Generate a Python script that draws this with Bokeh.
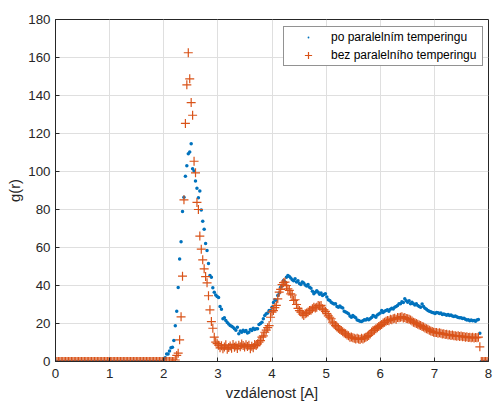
import numpy as np
from bokeh.plotting import figure
from bokeh.models import Range1d, FixedTicker, Legend, LegendItem
from bokeh.embed import file_html
from bokeh.resources import INLINE

# bin grid (bin centres 0..8 A)
r_start, r_end, n_bins = 0.0, 8.0, 301
r = np.linspace(r_start, r_end, n_bins)

x_ticks = [0, 1, 2, 3, 4, 5, 6, 7, 8]
y_ticks = [0, 20, 40, 60, 80, 100, 120, 140, 160, 180]

# g(r) "po paralelnim temperingu" (blue dots)
blue_zero = [0, 0, 0, 0, 0, 0, 0, 0, 0, 0, 0, 0, 0, 0, 0,
             0, 0, 0, 0, 0, 0, 0, 0, 0, 0, 0, 0, 0, 0, 0,
             0, 0, 0, 0, 0, 0, 0, 0, 0, 0, 0, 0, 0, 0, 0,
             0, 0, 0, 0, 0, 0, 0, 0, 0, 0, 0, 0, 0, 0, 0,
             0, 0, 0, 0, 0, 0, 0, 0, 0, 0, 0, 0, 0, 0, 0]
blue_peak = [0.9, 2, 4, 4, 5.5, 7.2, 7.5, 11, 18.8, 26.5, 39, 54, 63, 79, 86.5,
             97.5, 103, 109.3, 110.2, 114.6, 101.4, 100.2, 95, 91.2, 86.2, 89.8,
             79.8, 73.8, 69.6, 62.1, 58.4, 51.6, 45.3, 44.4, 38.8, 36.5, 35, 34.2,
             33.7, 29, 27.5, 22.5, 23, 21.6, 20.5, 19.8]
blue_mid = [18.9, 18.5, 18, 17.2, 16.5, 18, 14.6, 16, 15.4, 16.5,
            15.8, 16.3, 15, 15.4, 16.8, 16.3, 17.5, 16.8, 17.2, 17.2,
            19.5, 20, 20.7, 22.5, 24.2, 25.1, 25.5, 26.8, 26.8, 28.6,
            31, 32.5, 32.1, 34.7, 36, 39.1, 40, 42.6, 41.8, 44.4,
            45.3, 44.7, 44, 43, 42.5, 43.5, 41.8, 42.5, 41, 40.5,
            41.8, 41.3, 40.2, 39.7, 40.5, 39.1, 38.5, 37, 35.6, 36.5,
            37.2, 36.5, 35.4, 36, 34.7, 35.2, 35.6, 34, 32.5, 32.1,
            31.2, 30.6, 30.2, 30.4, 28.9, 28.6, 29.2, 28.6, 28.2, 26.5]
blue_tail = [26, 25.6, 25.1, 24, 23.3, 24.2, 23.5, 23, 21.8, 21.6,
             21.2, 21, 21.5, 22, 21.9, 22.5, 22, 22.5, 23.2, 24.2,
             23.8, 23.3, 24.5, 25, 25.5, 26.8, 25.8, 26.5, 26.8, 27.2,
             26.5, 27.5, 28, 27.6, 28.6, 29, 29.5, 30.4, 30.4, 31.5,
             31, 33, 32, 31.2, 32, 30.4, 31.2, 30.4, 29.8, 30.4,
             29.5, 29, 28.5, 30.2, 29, 28, 27.5, 26.8, 26.5, 26.2,
             25.8, 25.6, 25.2, 25.8, 25.6, 25.2, 25.5, 24.8, 25, 24.7,
             24.3, 24.7, 24.2, 24.5, 24, 23.7, 24, 23.5, 23.2, 23,
             23, 22.6, 22.8, 22.2, 21.9, 22, 21.5, 21.8, 21.4, 21.6,
             21.2, 21.8, 22.1, 14.9, 0, 0, 0, 0, 0, 0]

# g(r) "bez paralelniho temperingu" (orange crosses)
orange_zero = [0, 0, 0, 0, 0, 0, 0, 0, 0, 0, 0, 0, 0, 0, 0,
               0, 0, 0, 0, 0, 0, 0, 0, 0, 0, 0, 0, 0, 0, 0,
               0, 0, 0, 0, 0, 0, 0, 0, 0, 0, 0, 0, 0, 0, 0,
               0, 0, 0, 0, 0, 0, 0, 0, 0, 0, 0, 0, 0, 0, 0,
               0, 0, 0, 0, 0, 0, 0, 0, 0, 0, 0, 0, 0, 0, 0,
               0, 0, 0, 0, 0, 0, 0, 0]
orange_peak = [0.8, 3.2, 4.4, 11.4, 23.5, 44.9, 85.1, 125.3, 145.6, 162.5,
               148.8, 136.3, 129.6, 105.4, 99.3, 83.7, 80, 66, 59.1, 53.5,
               48.8, 44.7, 41.4, 34.6, 27.2, 21, 17.5, 12.8]
orange_mid = [10.2, 9.4, 8.6, 7.2, 8.3, 6.7, 7.6, 8.8, 6.5,
              7.4, 8.2, 7, 9, 7.5, 8.1, 6.8, 8.5, 7.8, 9.2,
              8.4, 7.6, 8.8, 7.9, 8.6, 6.7, 8, 7.2, 8.9, 8.4,
              9.3, 10.2, 11, 12.8, 13.5, 15.4, 16.5, 17.8, 18.9, 23.3,
              26, 26.8, 28.4, 29.5, 33, 36.5, 38, 40.5, 41.5, 41.8,
              40, 38.3, 37.4, 35.6, 35, 32.1, 32.5, 30, 28, 26.8,
              26, 25, 24.2, 25.1, 25.5, 26, 26.8, 27, 27.7, 28.6,
              28.2, 28.6, 29.5, 29.2, 29.5, 27.7, 27.2, 26.4, 25.2, 24,
              23.3, 22.5, 20.7, 19.8, 18.9, 18.2, 17.5, 16.8, 16.3, 15.6]
orange_tail = [15, 14.6, 14, 13.5, 12.8, 12.9, 12.5, 12.2, 11.8, 12.3,
               11.9, 11.6, 12.2, 11.9, 12.4, 12.8, 13.2, 13.7, 14.5, 15.5,
               16.3, 16.6, 17.3, 17.8, 18.4, 18.9, 19.5, 20.2, 20.6, 21.2,
               21.6, 21.5, 22.2, 22, 22.5, 22.8, 22.3, 23.2, 23, 23.3,
               23.6, 22.9, 23.1, 22.6, 22.5, 22.2, 21.8, 21.3, 20.7, 20.4,
               20, 19.6, 19.2, 18.9, 18.4, 18.1, 17.6, 17.2, 17, 16.5,
               16.1, 15.8, 15.4, 15.2, 15.3, 14.9, 15.1, 14.9, 14.5, 14.6,
               14.2, 14.3, 13.9, 14.1, 13.7, 13.9, 13.5, 13.6, 13.3, 13.5,
               13.2, 13.4, 13, 13.2, 12.8, 13, 12.6, 12.8, 12.5, 12.7,
               12.4, 12.6, 12.5, 12.8, 7.7, 0, 0, 0, 0, 0, 0]

g_blue = blue_zero + blue_peak + blue_mid + blue_tail
g_orange = orange_zero + orange_peak + orange_mid + orange_tail
n = min(len(r), len(g_blue), len(g_orange))

BLUE = "#0072BD"
ORANGE = "#D95319"
AX = "#262626"
FONT = "Liberation Sans"

p = figure(width=494, height=403, x_range=Range1d(0, 8), y_range=Range1d(0, 180),
           output_backend="svg", toolbar_location=None,
           min_border_left=55, min_border_right=6, min_border_top=19, min_border_bottom=42)
p.outline_line_color = AX
p.outline_line_width = 1
p.background_fill_color = "white"
p.border_fill_color = "white"

r1 = p.scatter(r[:n], g_blue[:n], marker="dot", size=14, line_color=BLUE, fill_color=BLUE)
r2 = p.scatter(r[:n], g_orange[:n], marker="cross", size=9, line_color=ORANGE, line_width=1.2)

p.xaxis.ticker = FixedTicker(ticks=x_ticks)
p.yaxis.ticker = FixedTicker(ticks=y_ticks)
for ax in (p.xaxis[0], p.yaxis[0]):
    ax.axis_line_color = AX
    ax.major_tick_line_color = AX
    ax.major_tick_in = 4
    ax.major_tick_out = 0
    ax.minor_tick_line_color = None
    ax.major_label_text_font = FONT
    ax.major_label_text_font_size = "13.3px"
    ax.major_label_text_color = AX
    ax.axis_label_text_font = FONT
    ax.axis_label_text_font_size = "14.7px"
    ax.axis_label_text_font_style = "normal"
    ax.axis_label_text_color = AX
p.xaxis.axis_label = "vzdálenost [A]"
p.yaxis.axis_label = "g(r)"
p.xaxis.major_label_standoff = 7
p.xaxis.axis_label_standoff = 4
p.yaxis.major_label_standoff = 5
p.yaxis.axis_label_standoff = 2

p.xgrid.grid_line_color = "#dfdfdf"
p.ygrid.grid_line_color = "#dfdfdf"

legend = Legend(items=[LegendItem(label="po paralelním temperingu", renderers=[r1]),
                       LegendItem(label="bez paralelního temperingu", renderers=[r2])],
                location=(228, 295), glyph_width=46, glyph_height=18, label_height=18,
                label_width=150, label_standoff=0, padding=1, spacing=-3, margin=0,
                label_text_font=FONT, label_text_font_size="12px", label_text_color="#000000",
                border_line_color=AX, border_line_width=1, background_fill_color="white",
                background_fill_alpha=1.0)
p.add_layout(legend)

open("out.html", "w").write(file_html(p, INLINE))
